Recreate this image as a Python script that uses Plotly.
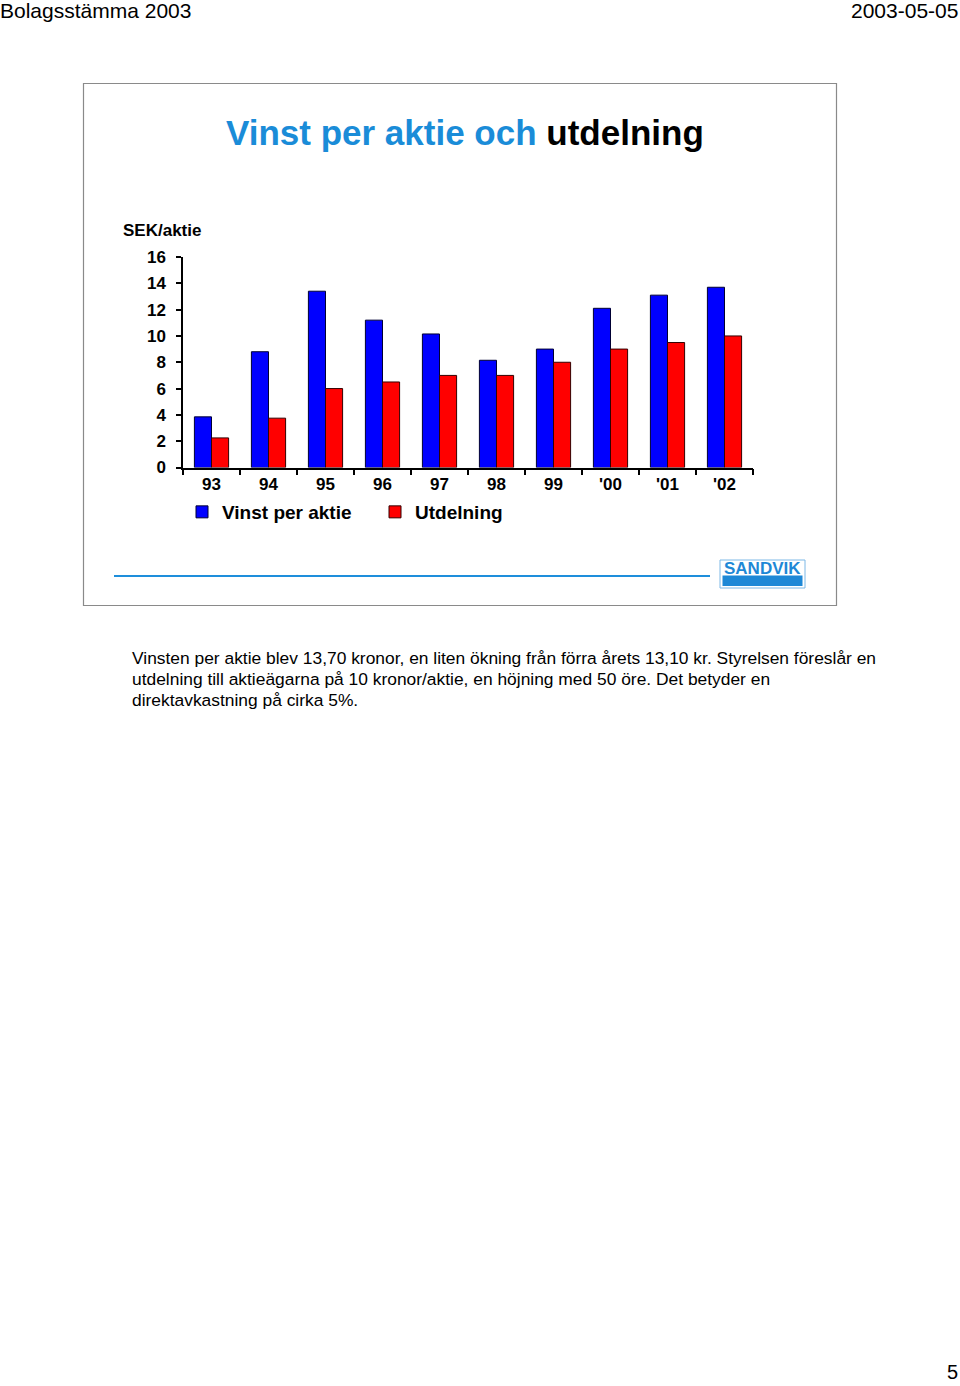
import plotly.graph_objects as go

W, H = 960, 1386

years = ["93", "94", "95", "96", "97", "98", "99", "'00", "'01", "'02"]
vinst_per_aktie = [3.85, 8.8, 13.4, 11.2, 10.15, 8.15, 9.0, 12.1, 13.1, 13.7]
utdelning = [2.25, 3.75, 6.0, 6.5, 7.0, 7.0, 8.0, 9.0, 9.5, 10.0]
y_ticks = [0, 2, 4, 6, 8, 10, 12, 14, 16]

body_lines = [
    "Vinsten per aktie blev 13,70 kronor, en liten ökning från förra årets 13,10 kr. Styrelsen föreslår en",
    "utdelning till aktieägarna på 10 kronor/aktie, en höjning med 50 öre. Det betyder en",
    "direktavkastning på cirka 5%.",
]

BLUE_TXT = "#1A8CD8"
FONT = "Arial, Liberation Sans, sans-serif"


def px(x):
    return x / W


def py(y):
    return 1 - y / H


fig = go.Figure()
fig.add_trace(go.Bar(
    x=years, y=vinst_per_aktie, name="Vinst per aktie",
    marker=dict(color="#0000FF", line=dict(color="#000033", width=1)),
))
fig.add_trace(go.Bar(
    x=years, y=utdelning, name="Utdelning",
    marker=dict(color="#FF0000", line=dict(color="#330000", width=1)),
))

fig.update_layout(
    width=W, height=H,
    margin=dict(l=0, r=0, t=0, b=0, pad=0, autoexpand=False),
    paper_bgcolor="white", plot_bgcolor="white",
    barmode="group", bargap=0.4, bargroupgap=0,
    font=dict(family=FONT, color="black"),
    showlegend=True,
    legend=dict(
        orientation="h", x=px(182), y=py(512), xanchor="left", yanchor="middle",
        font=dict(family=FONT, size=19, color="black", weight="bold"),
        entrywidth=148, entrywidthmode="pixels",
        bgcolor="rgba(0,0,0,0)", itemclick=False,
    ),
    xaxis=dict(
        domain=[px(183), px(753)], anchor="y", automargin=False,
        showline=True, linecolor="black", linewidth=1.5,
        ticks="outside", tickson="boundaries", ticklen=6, tickcolor="black", tickwidth=1.5,
        tickfont=dict(family=FONT, size=17, color="black", weight="bold"),
        showgrid=False, zeroline=False, fixedrange=True,
    ),
    yaxis=dict(
        domain=[py(467.5), py(257)], anchor="x", automargin=False,
        range=[0, 16], tickvals=y_ticks,
        showline=True, linecolor="black", linewidth=1.5,
        ticks="outside", ticklen=5, tickcolor="black", tickwidth=1.5,
        ticklabelstandoff=7,
        tickfont=dict(family=FONT, size=17, color="black", weight="bold"),
        showgrid=False, zeroline=False, fixedrange=True,
    ),
)

shapes = [
    # slide frame
    dict(type="rect", xref="paper", yref="paper", x0=px(83.5), x1=px(836.5), y0=py(605.5), y1=py(83.5),
         line=dict(color="#8a8a8a", width=1.2), fillcolor="rgba(0,0,0,0)", layer="below"),
    # blue rule
    dict(type="line", xref="paper", yref="paper", x0=px(114), x1=px(710), y0=py(576), y1=py(576),
         line=dict(color="#1E8EDB", width=2)),
    # logo box
    dict(type="rect", xref="paper", yref="paper", x0=px(720), x1=px(805), y0=py(588), y1=py(560),
         line=dict(color="#7DB8E6", width=1), fillcolor="white"),
    dict(type="rect", xref="paper", yref="paper", x0=px(722.5), x1=px(802.5), y0=py(586), y1=py(575.5),
         line=dict(width=0), fillcolor="#1E88D6"),
]
fig.update_layout(shapes=shapes)

annotations = [
    dict(text="Bolagsstämma 2003", x=px(-2), y=py(11), xanchor="left", yanchor="middle",
         font=dict(family=FONT, size=21, color="black")),
    dict(text="2003-05-05", x=px(960), y=py(11), xanchor="right", yanchor="middle",
         font=dict(family=FONT, size=21, color="black")),
    dict(text="5", x=px(959), y=py(1372), xanchor="right", yanchor="middle", borderpad=0,
         font=dict(family=FONT, size=20, color="black")),
    dict(text=f"<span style='color:{BLUE_TXT}'>Vinst per aktie och</span> utdelning",
         x=px(465), y=py(132), xanchor="center", yanchor="middle",
         font=dict(family=FONT, size=35, color="black", weight="bold")),
    dict(text="SEK/aktie", x=px(121), y=py(230), xanchor="left", yanchor="middle",
         font=dict(family=FONT, size=17, color="black", weight="bold")),
    dict(text="SANDVIK", x=px(762.5), y=py(568), xanchor="center", yanchor="middle",
         font=dict(family=FONT, size=17, color="#1E88D6", weight="bold")),
]
for i, (line, yy) in enumerate(zip(body_lines, [658, 679, 700])):
    annotations.append(dict(text=line, x=px(130), y=py(yy), xanchor="left", yanchor="middle",
                            font=dict(family=FONT, size=17.4, color="black")))
for a in annotations:
    a.update(xref="paper", yref="paper", showarrow=False)
fig.update_layout(annotations=annotations)

fig.write_html("out.html", config={"displayModeBar": False})
